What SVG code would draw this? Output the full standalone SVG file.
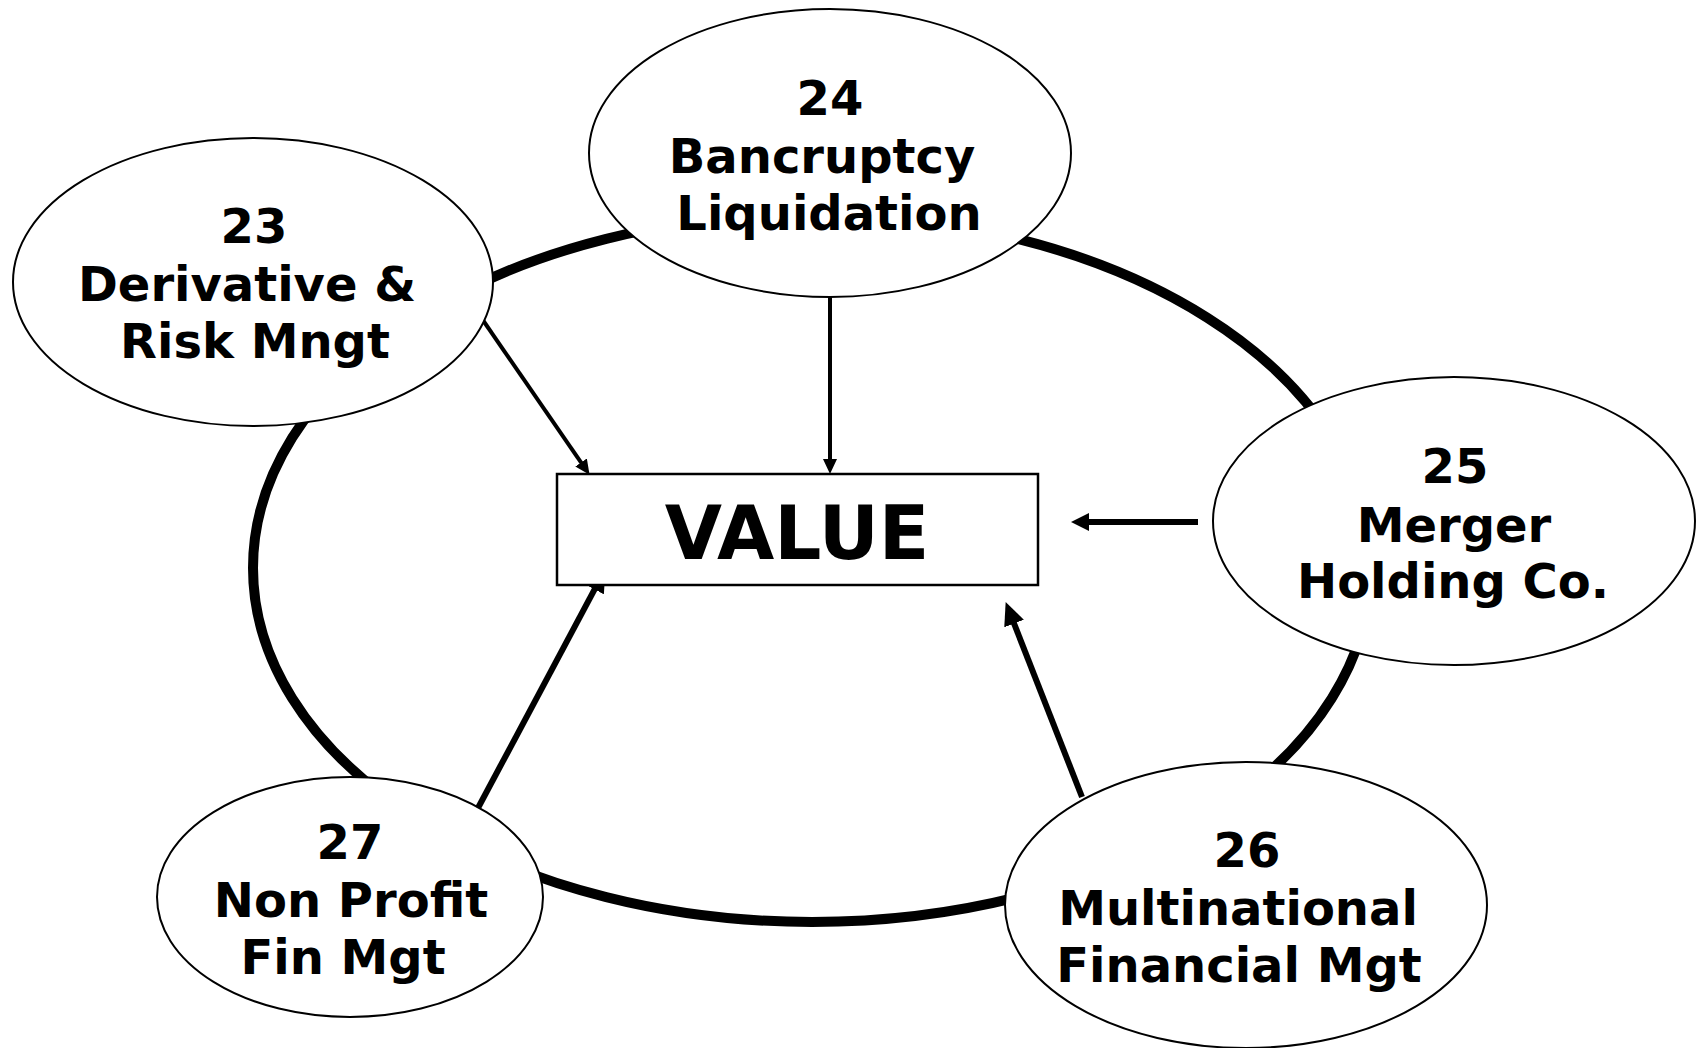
<svg xmlns="http://www.w3.org/2000/svg" width="1705" height="1048" viewBox="0 0 1705 1048">
<style>
.node{fill:#fff;stroke:#000;stroke-width:2}
.lbl{font-family:"DejaVu Sans","Liberation Sans",sans-serif;font-weight:bold;font-size:48px;text-anchor:middle;fill:#000}
.ring{fill:none;stroke:#000;stroke-width:10}
.thin{stroke:#000;stroke-width:4;fill:none}
.thick{stroke:#000;stroke-width:6;fill:none}
</style>
<defs>
<marker id="ah-s" markerUnits="userSpaceOnUse" markerWidth="15" markerHeight="14" refX="5" refY="7" orient="auto"><path d="M0,0 L15,7 L0,14 z" fill="#000"/></marker>
<marker id="ah-m" markerUnits="userSpaceOnUse" markerWidth="18" markerHeight="18" refX="6" refY="9" orient="auto"><path d="M0,0 L18,9 L0,18 z" fill="#000"/></marker>
<marker id="ah-l" markerUnits="userSpaceOnUse" markerWidth="23" markerHeight="21" refX="7" refY="10.5" orient="auto"><path d="M0,0 L23,10.5 L0,21 z" fill="#000"/></marker>
</defs>
<rect width="1705" height="1048" fill="#fff"/>
<g id="ring">
<ellipse class="ring" cx="812" cy="568" rx="559" ry="354"/>
</g>
<g id="connectors">
<line class="thin" x1="478" y1="313" x2="583.9" y2="466.6" marker-end="url(#ah-s)"/>
<line class="thin" x1="830" y1="297" x2="830" y2="464" marker-end="url(#ah-s)"/>
<line class="thick" x1="1198" y1="522" x2="1083" y2="522" marker-end="url(#ah-m)"/>
<line class="thick" x1="1082" y1="797" x2="1011.5" y2="617" marker-end="url(#ah-l)"/>
<line class="thick" x1="478" y1="808" x2="597.9" y2="583.2" marker-end="url(#ah-l)"/>
</g>
<g id="value">
<rect x="557" y="474" width="481" height="111" fill="#fff" stroke="#000" stroke-width="2.5"/>
<text x="797" y="559" font-family="DejaVu Sans, Liberation Sans, sans-serif" font-weight="bold" font-size="74" text-anchor="middle">VALUE</text>
</g>
<g id="n23">
<ellipse class="node" cx="253" cy="282" rx="240" ry="144"/>
<text class="lbl" x="254" y="243">23</text>
<text class="lbl" x="247" y="301">Derivative &amp;</text>
<text class="lbl" x="255" y="358">Risk Mngt</text>
</g>
<g id="n24">
<ellipse class="node" cx="830" cy="153" rx="241" ry="144"/>
<text class="lbl" x="830" y="115">24</text>
<text class="lbl" x="822" y="173">Bancruptcy</text>
<text class="lbl" x="829" y="230">Liquidation</text>
</g>
<g id="n25">
<ellipse class="node" cx="1454" cy="521" rx="241" ry="144"/>
<text class="lbl" x="1455" y="483">25</text>
<text class="lbl" x="1454" y="542">Merger</text>
<text class="lbl" x="1453" y="598">Holding Co.</text>
</g>
<g id="n26">
<ellipse class="node" cx="1246" cy="905" rx="241" ry="143"/>
<text class="lbl" x="1247" y="867">26</text>
<text class="lbl" x="1238" y="925">Multinational</text>
<text class="lbl" x="1239" y="982">Financial Mgt</text>
</g>
<g id="n27">
<ellipse class="node" cx="350" cy="897" rx="193" ry="120"/>
<text class="lbl" x="350" y="859">27</text>
<text class="lbl" x="351" y="917">Non Profit</text>
<text class="lbl" x="343" y="974">Fin Mgt</text>
</g>
</svg>
